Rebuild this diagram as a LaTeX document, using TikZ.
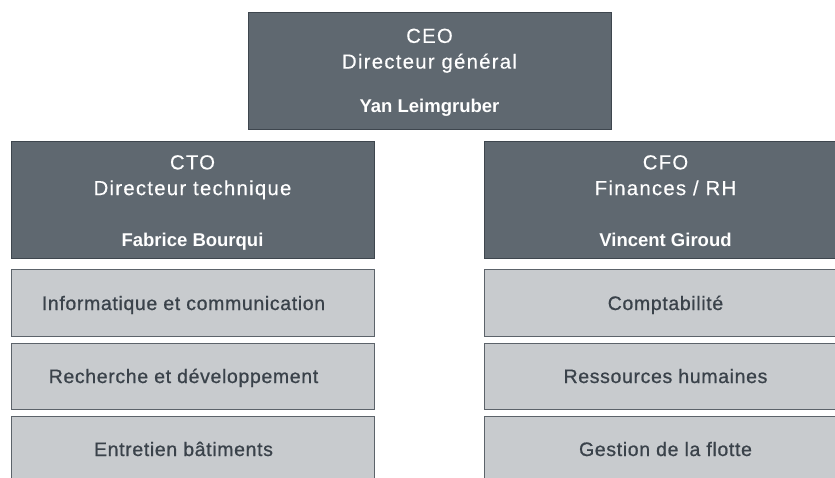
\documentclass[tikz,border=0pt]{standalone}
\usepackage{fontspec}
\setmainfont{Liberation Sans}
\newfontfamily\titlefont[LetterSpace=6.3, FakeBold=0.3]{Liberation Sans}
\newfontfamily\unitfont[LetterSpace=3.3, FakeBold=0.8]{Liberation Sans}
\usepackage{tikz}
\usetikzlibrary{positioning,calc}
\definecolor{headgray}{RGB}{95,104,112}
\definecolor{headline}{RGB}{62,70,78}
\definecolor{unitgray}{RGB}{200,203,206}
\definecolor{unitline}{RGB}{92,99,106}
\definecolor{unittext}{RGB}{58,66,74}

\begin{document}
\begin{tikzpicture}[x=1pt, y=1pt,
    headbox/.style={rectangle, draw=headline, fill=headgray, line width=1pt, minimum width=363pt, minimum height=117pt, inner sep=0pt},
    unitbox/.style={rectangle, draw=unitline, fill=unitgray, line width=1pt, minimum width=363pt, minimum height=66pt, inner sep=0pt, text=unittext, text height=14pt, text depth=0pt, font=\unitfont\fontsize{19.5}{23}\selectfont},
    leftunit/.style={unitbox, execute at begin node={\hspace*{-18pt}}},
    headtitle/.style={anchor=north, text=white, align=center, inner sep=0pt, font=\titlefont\fontsize{20.3}{25.7}\selectfont},
    headname/.style={anchor=base, text=white, inner sep=0pt, font=\bfseries\fontsize{18.5}{22}\selectfont}
]
    \useasboundingbox (0,0) rectangle (835,-478);

    % direction
    \node[headbox] (ceo) at (429.5,-71) {};
    \node[headtitle] (ceotitle) at ($(ceo.north)+(0,-16.5)$) {CEO\\Directeur général};
    \node[headname] (ceoname) at ($(ceo.south)+(0,17)$) {Yan Leimgruber};

    \node[headbox] (cto) at (192.5,-200.5) {};
    \node[headtitle] (ctotitle) at ($(cto.north)+(0,-13.5)$) {CTO\\Directeur technique};
    \node[headname] (ctoname) at ($(cto.south)+(0,13)$) {Fabrice Bourqui};

    \node[headbox] (cfo) at (665.5,-200.5) {};
    \node[headtitle] (cfotitle) at ($(cfo.north)+(0,-13.5)$) {CFO\\Finances / RH};
    \node[headname] (cfoname) at ($(cfo.south)+(0,13)$) {Vincent Giroud};

    % services
    \node[leftunit, below=10pt of cto] (info) {Informatique et communication};
    \node[leftunit, below=6pt of info] (rd) {Recherche et développement};
    \node[leftunit, below=6pt of rd] (batiments) {Entretien bâtiments};

    \node[unitbox, below=10pt of cfo] (compta) {Comptabilité};
    \node[unitbox, below=6pt of compta] (rh) {Ressources humaines};
    \node[unitbox, below=6pt of rh] (flotte) {Gestion de la flotte};
\end{tikzpicture}
\end{document}
